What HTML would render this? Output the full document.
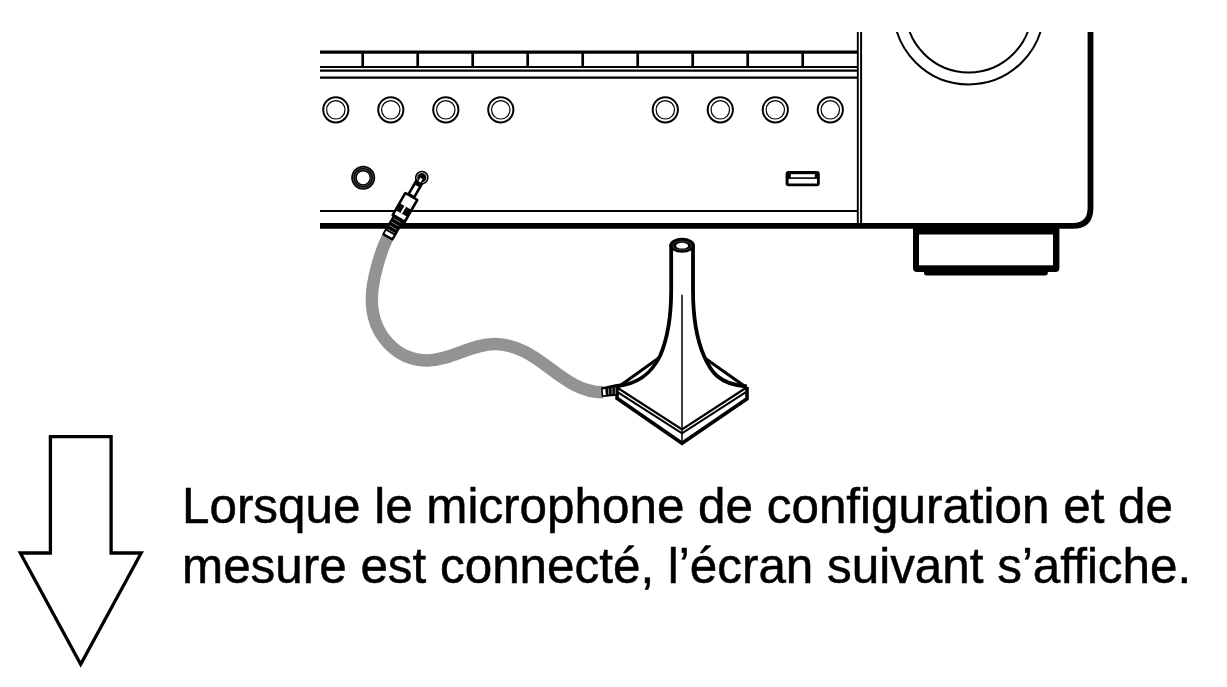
<!DOCTYPE html>
<html><head><meta charset="utf-8">
<style>
html,body{margin:0;padding:0;background:#fff;width:1227px;height:687px;overflow:hidden}
svg{display:block;position:absolute;left:0;top:0}
text{font-family:"Liberation Sans",sans-serif}
</style></head><body>
<svg width="1227" height="687" viewBox="0 0 1227 687">
<defs>
  <clipPath id="topclip"><rect x="0" y="32" width="1227" height="700"/></clipPath>
</defs>
<g fill="none" stroke="#000">
  <!-- top divider row -->
  <line x1="320" y1="52.2" x2="858" y2="52.2" stroke-width="3.3"/>
  <g stroke-width="2.7">
    <line x1="362.7" y1="52" x2="362.7" y2="67"/>
    <line x1="417.7" y1="52" x2="417.7" y2="67"/>
    <line x1="472.7" y1="52" x2="472.7" y2="67"/>
    <line x1="527.7" y1="52" x2="527.7" y2="67"/>
    <line x1="582.7" y1="52" x2="582.7" y2="67"/>
    <line x1="637.7" y1="52" x2="637.7" y2="67"/>
    <line x1="692.7" y1="52" x2="692.7" y2="67"/>
    <line x1="747.7" y1="52" x2="747.7" y2="67"/>
    <line x1="802.7" y1="52" x2="802.7" y2="67"/>
  </g>
  <line x1="320" y1="67.05" x2="858" y2="67.05" stroke-width="2"/>
  <line x1="320" y1="70.6" x2="858" y2="70.6" stroke-width="2.2"/>
  <line x1="320" y1="77.65" x2="858" y2="77.65" stroke-width="2.1"/>
  <!-- knobs -->
  <g>
    <circle cx="335.8" cy="109.8" r="12.6" stroke-width="2"/><circle cx="335.8" cy="109.8" r="9.2" stroke-width="1.2"/>
    <circle cx="390.8" cy="109.8" r="12.6" stroke-width="2"/><circle cx="390.8" cy="109.8" r="9.2" stroke-width="1.2"/>
    <circle cx="445.8" cy="109.8" r="12.6" stroke-width="2"/><circle cx="445.8" cy="109.8" r="9.2" stroke-width="1.2"/>
    <circle cx="500.8" cy="109.8" r="12.6" stroke-width="2"/><circle cx="500.8" cy="109.8" r="9.2" stroke-width="1.2"/>
    <circle cx="665.3" cy="109.8" r="12.6" stroke-width="2"/><circle cx="665.3" cy="109.8" r="9.2" stroke-width="1.2"/>
    <circle cx="720.3" cy="109.8" r="12.6" stroke-width="2"/><circle cx="720.3" cy="109.8" r="9.2" stroke-width="1.2"/>
    <circle cx="775.3" cy="109.8" r="12.6" stroke-width="2"/><circle cx="775.3" cy="109.8" r="9.2" stroke-width="1.2"/>
    <circle cx="830.3" cy="109.8" r="12.6" stroke-width="2"/><circle cx="830.3" cy="109.8" r="9.2" stroke-width="1.2"/>
  </g>
  <!-- headphone jack -->
  <circle cx="363.2" cy="177.8" r="9.2" stroke-width="5.6"/>
  <circle cx="363.2" cy="177.8" r="10.2" stroke-width="0.5" stroke="#999"/>
  <circle cx="363.2" cy="177.8" r="8.1" stroke-width="0.5" stroke="#999"/>
  <!-- bottom lines -->
  <line x1="320" y1="211" x2="858" y2="211" stroke-width="1.9"/>
  <!-- vertical double line -->
  <line x1="857.8" y1="32" x2="857.8" y2="226" stroke-width="1.9"/>
  <line x1="861.1" y1="32" x2="861.1" y2="226" stroke-width="2"/>
  <!-- right panel -->
  <path d="M320 225.8 H1073 Q1090.5 225.8 1090.5 208 V32" stroke-width="5.8"/>
  <!-- big knob arcs -->
  <g clip-path="url(#topclip)">
    <circle cx="968.7" cy="9.4" r="75" stroke-width="2"/>
    <circle cx="968.7" cy="9.4" r="63" stroke-width="2"/>
  </g>
</g>
<!-- USB -->
<rect x="785.6" y="170.9" width="34.2" height="15.3" rx="3" fill="#000"/>
<rect x="790.8" y="174.2" width="24" height="3.1" fill="#fff"/>
<rect x="788.6" y="178.9" width="28.4" height="4.6" fill="#fff"/>
<!-- foot -->
<path d="M913 223 H1059.4 V268 Q1059.4 272 1055.4 272 H1047.8 V273 Q1047.8 275.5 1045 275.5 H927 Q924 275.5 924 273 V272 H917 Q913 272 913 268 Z" fill="#000"/>
<rect x="919" y="234.5" width="134" height="30.8" fill="#fff"/>

<!-- cable -->
<path d="M388.5 236 C381.5 248.1 371.8 280 371.8 299 C371.8 335 397 360.5 427.5 360.5 C450 360.5 472 344 494 344 C540 344 560 392.3 603 392.3" fill="none" stroke="#939393" stroke-width="12.4"/>

<!-- plug -->
<g transform="translate(421.8 177.6) rotate(30)">
  <circle cx="0" cy="0" r="6.1" fill="none" stroke="#000" stroke-width="1.6"/>
  <circle cx="0" cy="0" r="4.6" fill="#000"/>
  <rect x="-4.5" y="4" width="9" height="18" fill="#000"/>
  <rect x="-1.2" y="0.8" width="2.6" height="4" fill="#fff"/>
  <rect x="-1.9" y="9.5" width="3.8" height="10" fill="#fff"/>
  <rect x="-6.1" y="45" width="12.7" height="24.5" rx="1.5" fill="#000"/>
  <rect x="-7.8" y="20.3" width="16.4" height="28" rx="1.5" fill="#000"/>
  <rect x="-5.3" y="22.8" width="11.3" height="10.4" fill="#fff"/>
  <rect x="-0.9" y="33" width="1.9" height="8.2" fill="#fff"/>
  <rect x="-5.3" y="41.2" width="11.3" height="4.3" fill="#fff"/>
  <g fill="#bbb">
    <rect x="-4" y="49.3" width="8" height="0.65"/>
    <rect x="-4" y="53.3" width="8" height="0.65"/>
    <rect x="-4" y="57.3" width="8" height="0.65"/>
    <rect x="-4" y="61.3" width="8" height="0.65"/>
  </g>
  <rect x="-4.3" y="63.8" width="8.6" height="3.2" fill="#fff"/>
</g>

<!-- mic stand -->
<g fill="none" stroke="#000" stroke-linejoin="miter">
  <!-- slab -->
  <path d="M617 387.5 L682 429.5 L746.5 387.5" stroke-width="2.2"/>
  <path d="M618 392.3 L682 433.3 L745.5 392.3" stroke-width="2"/>
  <path d="M617 387 V398.2 L682 443.2 L747 398.7 V387" stroke-width="3.6"/>
  <line x1="682" y1="294.8" x2="682" y2="444" stroke-width="1.5"/>
  <!-- back edges -->
  <path d="M617.5 387.5 L659 357.8" stroke-width="3"/>
  <path d="M746.5 387.5 L704.7 358" stroke-width="3"/>
  <!-- tube & flare -->
  <path d="M671.2 245 V290 C671.2 318 667 340 660 356 C652 372 640 384 617 386" stroke-width="3.8"/>
  <path d="M693 245 V290 C693 318 697 340 704 356 C710.5 370.8 718 384.5 747 386.5" stroke-width="3.8"/>
</g>
<ellipse cx="682.1" cy="245.2" rx="12.8" ry="7.45" fill="#000"/>
<ellipse cx="682.1" cy="245.6" rx="9.3" ry="4.4" fill="none" stroke="#777" stroke-width="0.5"/>
<ellipse cx="682.1" cy="245.7" rx="6.1" ry="2.9" fill="#fff"/>

<!-- mic connector -->
<path d="M601.8 388 L616.8 384.6 L617.8 395.2 L602.3 396.4 Z" fill="#000" stroke="#000" stroke-width="1.3" stroke-linejoin="round"/>
<path d="M602.8 389.4 L605.4 389 L605.8 395 L603.2 395.2 Z" fill="#fff"/>
<g fill="#aaa">
<rect x="608.2" y="388.6" width="0.9" height="5.8"/>
<rect x="611.6" y="388" width="0.9" height="6.2"/>
<rect x="614.8" y="387.5" width="0.9" height="6.5"/>
</g>

<!-- arrow -->
<path d="M50.4 436.6 H111.1 V553 H141.2 L80.7 664.3 L20.3 553 H50.4 Z" fill="none" stroke="#000" stroke-width="3.3"/>
<!-- text -->
<g transform="matrix(1 0 0 1.028 0 -14.64)">
<text x="182" y="523" font-size="49.4" stroke="#000" stroke-width="0.5">Lorsque le microphone de configuration et de</text>
<text x="182" y="581.4" font-size="49.4" stroke="#000" stroke-width="0.5">mesure est connecté, l’écran suivant s’affiche.</text>
</g>
</svg>
</body></html>
